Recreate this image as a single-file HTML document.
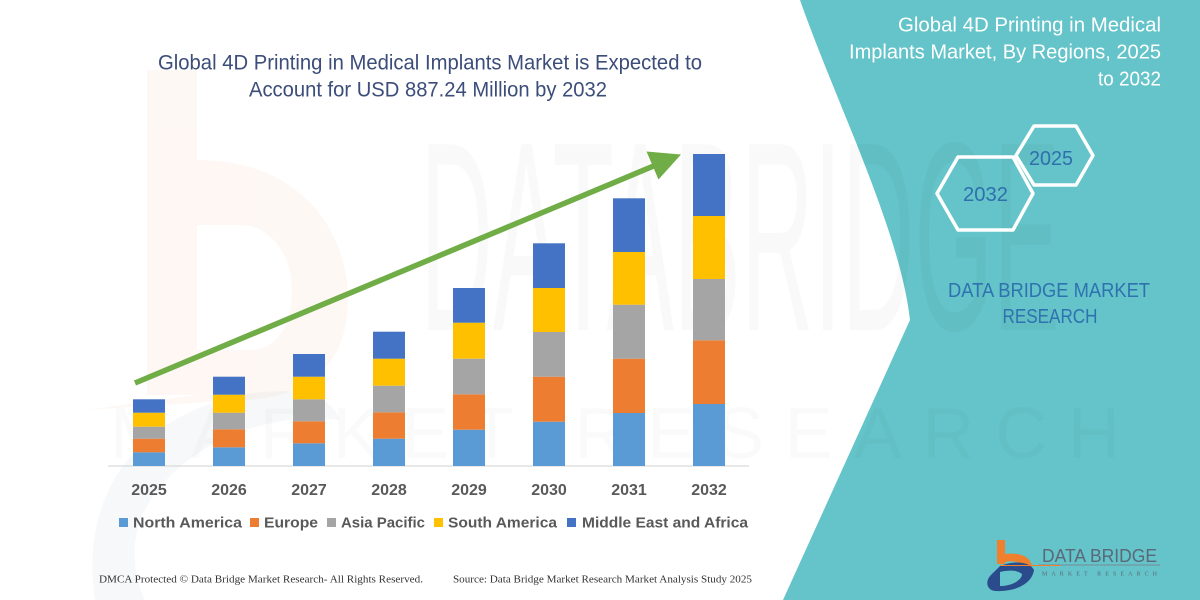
<!DOCTYPE html>
<html>
<head>
<meta charset="utf-8">
<style>
  html,body{margin:0;padding:0;background:#fff;}
  svg{display:block;}
</style>
</head>
<body>
<svg width="1200" height="600" viewBox="0 0 1200 600" xmlns="http://www.w3.org/2000/svg">
  <rect x="0" y="0" width="1200" height="600" fill="#ffffff"/>

  <!-- faint orange "b" watermark -->
  <g opacity="0.05" fill="#ED7D31">
    <rect x="147" y="70" width="50" height="325"/>
    <path fill-rule="evenodd" d="M197,160 C300,160 348,230 348,300 C348,370 300,400 240,400 L85,410 L197,395 Z M197,225 L197,350 L250,350 C280,350 292,320 292,290 C292,255 270,225 240,225 Z"/>
  </g>
  <!-- faint blue swoosh watermark -->
  <g opacity="0.05" fill="#4A6FA5">
    <path d="M95,600 C80,500 130,420 240,395 C300,385 330,395 340,420 C260,410 170,450 140,520 C130,550 135,580 145,600 Z"/>
  </g>

  <!-- teal panel -->
  <path d="M800,0 C835,100 900,230 910,320 L783,600 L1200,600 L1200,0 Z" fill="#64C4C9"/>

  <!-- faint big watermark letters -->
  <text x="420" y="330" font-family="Liberation Sans, sans-serif" font-size="270" fill="#000" opacity="0.018" textLength="640" lengthAdjust="spacingAndGlyphs">DATABRIDGE</text>
  <text x="110" y="458" font-family="Liberation Sans, sans-serif" font-size="72" fill="#000" opacity="0.015" textLength="1010" lengthAdjust="spacing">MARKET RESEARCH</text>

  <!-- Title -->
  <g font-family="Liberation Sans, sans-serif" font-size="21" fill="#3c4d7a" text-anchor="middle">
    <text x="430" y="69.5" textLength="544" lengthAdjust="spacingAndGlyphs">Global 4D Printing in Medical Implants Market is Expected to</text>
    <text x="428" y="96.5" textLength="358" lengthAdjust="spacingAndGlyphs">Account for USD 887.24 Million by 2032</text>
  </g>

  <!-- axis line -->
  <line x1="108" y1="466" x2="749" y2="466" stroke="#d9d9d9" stroke-width="1.2"/>

  <!-- bars -->
  <g>
    <!-- 2025 -->
    <rect x="133" y="452.3" width="32" height="13.7" fill="#5B9BD5"/>
    <rect x="133" y="438.7" width="32" height="13.6" fill="#ED7D31"/>
    <rect x="133" y="426.7" width="32" height="12" fill="#A5A5A5"/>
    <rect x="133" y="412.7" width="32" height="14" fill="#FFC000"/>
    <rect x="133" y="399.3" width="32" height="13.4" fill="#4472C4"/>
    <!-- 2026 -->
    <rect x="213" y="447.3" width="32" height="18.7" fill="#5B9BD5"/>
    <rect x="213" y="429.3" width="32" height="18" fill="#ED7D31"/>
    <rect x="213" y="412.7" width="32" height="16.6" fill="#A5A5A5"/>
    <rect x="213" y="394.7" width="32" height="18" fill="#FFC000"/>
    <rect x="213" y="376.7" width="32" height="18" fill="#4472C4"/>
    <!-- 2027 -->
    <rect x="293" y="443.3" width="32" height="22.7" fill="#5B9BD5"/>
    <rect x="293" y="421.3" width="32" height="22" fill="#ED7D31"/>
    <rect x="293" y="399.3" width="32" height="22" fill="#A5A5A5"/>
    <rect x="293" y="376.7" width="32" height="22.6" fill="#FFC000"/>
    <rect x="293" y="354" width="32" height="22.7" fill="#4472C4"/>
    <!-- 2028 -->
    <rect x="373" y="438.7" width="32" height="27.3" fill="#5B9BD5"/>
    <rect x="373" y="412.3" width="32" height="26.4" fill="#ED7D31"/>
    <rect x="373" y="385.7" width="32" height="26.6" fill="#A5A5A5"/>
    <rect x="373" y="358.7" width="32" height="27" fill="#FFC000"/>
    <rect x="373" y="331.7" width="32" height="27" fill="#4472C4"/>
    <!-- 2029 -->
    <rect x="453" y="429.7" width="32" height="36.3" fill="#5B9BD5"/>
    <rect x="453" y="394.3" width="32" height="35.4" fill="#ED7D31"/>
    <rect x="453" y="358.7" width="32" height="35.6" fill="#A5A5A5"/>
    <rect x="453" y="322.7" width="32" height="36" fill="#FFC000"/>
    <rect x="453" y="288" width="32" height="34.7" fill="#4472C4"/>
    <!-- 2030 -->
    <rect x="533" y="421.7" width="32" height="44.3" fill="#5B9BD5"/>
    <rect x="533" y="376.7" width="32" height="45" fill="#ED7D31"/>
    <rect x="533" y="332" width="32" height="44.7" fill="#A5A5A5"/>
    <rect x="533" y="288" width="32" height="44" fill="#FFC000"/>
    <rect x="533" y="243.3" width="32" height="44.7" fill="#4472C4"/>
    <!-- 2031 -->
    <rect x="613" y="413" width="32" height="53" fill="#5B9BD5"/>
    <rect x="613" y="358.7" width="32" height="54.3" fill="#ED7D31"/>
    <rect x="613" y="304.7" width="32" height="54" fill="#A5A5A5"/>
    <rect x="613" y="252" width="32" height="52.7" fill="#FFC000"/>
    <rect x="613" y="198.3" width="32" height="53.7" fill="#4472C4"/>
    <!-- 2032 -->
    <rect x="693" y="404" width="32" height="62" fill="#5B9BD5"/>
    <rect x="693" y="340.3" width="32" height="63.7" fill="#ED7D31"/>
    <rect x="693" y="279" width="32" height="61.3" fill="#A5A5A5"/>
    <rect x="693" y="216" width="32" height="63" fill="#FFC000"/>
    <rect x="693" y="154" width="32" height="62" fill="#4472C4"/>
  </g>

  <!-- green arrow -->
  <line x1="135" y1="383" x2="656" y2="165" stroke="#70AD47" stroke-width="5.5"/>
  <polygon points="681,154.5 658.5,179.5 646.5,151.5" fill="#70AD47"/>

  <!-- year labels -->
  <g font-family="Liberation Sans, sans-serif" font-size="16" font-weight="bold" fill="#595959" text-anchor="middle">
    <text x="149" y="495">2025</text>
    <text x="229" y="495">2026</text>
    <text x="309" y="495">2027</text>
    <text x="389" y="495">2028</text>
    <text x="469" y="495">2029</text>
    <text x="549" y="495">2030</text>
    <text x="629" y="495">2031</text>
    <text x="709" y="495">2032</text>
  </g>

  <!-- legend -->
  <g>
    <rect x="119" y="518" width="9" height="9" fill="#5B9BD5"/>
    <rect x="250" y="518" width="9" height="9" fill="#ED7D31"/>
    <rect x="327" y="518" width="9" height="9" fill="#A5A5A5"/>
    <rect x="434" y="518" width="9" height="9" fill="#FFC000"/>
    <rect x="567" y="518" width="9" height="9" fill="#4472C4"/>
  </g>
  <g font-family="Liberation Sans, sans-serif" font-size="15" font-weight="bold" fill="#595959">
    <text x="133" y="527.5" textLength="109" lengthAdjust="spacingAndGlyphs">North America</text>
    <text x="264" y="527.5" textLength="54" lengthAdjust="spacingAndGlyphs">Europe</text>
    <text x="341" y="527.5" textLength="84" lengthAdjust="spacingAndGlyphs">Asia Pacific</text>
    <text x="448" y="527.5" textLength="109" lengthAdjust="spacingAndGlyphs">South America</text>
    <text x="582" y="527.5" textLength="166" lengthAdjust="spacingAndGlyphs">Middle East and Africa</text>
  </g>

  <!-- footer -->
  <g font-family="Liberation Serif, serif" font-size="11" fill="#333">
    <text x="99" y="582.5" textLength="324" lengthAdjust="spacingAndGlyphs">DMCA Protected © Data Bridge Market Research-  All Rights Reserved.</text>
    <text x="453" y="582.5" textLength="299" lengthAdjust="spacingAndGlyphs">Source: Data Bridge Market Research  Market Analysis Study 2025</text>
  </g>

  <!-- right panel title -->
  <g font-family="Liberation Sans, sans-serif" font-size="20" fill="#ffffff" text-anchor="end">
    <text x="1161" y="31.5" textLength="263" lengthAdjust="spacingAndGlyphs">Global 4D Printing in Medical</text>
    <text x="1161" y="58.5" textLength="312" lengthAdjust="spacingAndGlyphs">Implants Market, By Regions, 2025</text>
    <text x="1161" y="85.5" textLength="63" lengthAdjust="spacingAndGlyphs">to 2032</text>
  </g>

  <!-- hexagons -->
  <g fill="none" stroke="#ffffff" stroke-width="3.5" stroke-linejoin="round">
    <polygon points="1016,155.5 1034,126 1076,126 1093,155.5 1076,185 1034,185"/>
    <polygon points="937,193.5 958,157 1013,157 1033,193.5 1013,230 958,230"/>
  </g>
  <g font-family="Liberation Sans, sans-serif" font-size="20" fill="#2f6fae" text-anchor="middle">
    <text x="1051" y="165" textLength="44" lengthAdjust="spacingAndGlyphs">2025</text>
    <text x="985.5" y="201" textLength="45" lengthAdjust="spacingAndGlyphs">2032</text>
  </g>

  <!-- DBMR text -->
  <g font-family="Liberation Sans, sans-serif" font-size="20" fill="#2f72b0" text-anchor="middle">
    <text x="1049" y="297" textLength="202" lengthAdjust="spacingAndGlyphs">DATA BRIDGE MARKET</text>
    <text x="1050" y="323" textLength="95" lengthAdjust="spacingAndGlyphs">RESEARCH</text>
  </g>

  <!-- logo -->
  <g>
    <rect x="997" y="540" width="8" height="24" fill="#F07F2E"/>
    <path d="M1005,554 C1022,552 1033,558 1032,570 L1024,570 C1024,563 1016,560 1005,562 Z" fill="#F07F2E"/>
    <path d="M1000,566 C1015,560 1030,562 1034,570 C1032,584 1015,592 995,591 C987,590 985,582 990,576 C994,572 998,568 1000,566 Z M1000,572 L1000,586 C1012,586 1022,580 1022,574 C1018,570 1008,570 1000,572 Z" fill="#2A4C8C" fill-rule="evenodd"/>
    <text x="1042" y="562" font-family="Liberation Sans, sans-serif" font-size="18" fill="#5b6878" textLength="115" lengthAdjust="spacingAndGlyphs">DATA BRIDGE</text>
    <line x1="1038" y1="565" x2="1160" y2="565" stroke="#7a8a98" stroke-width="1"/>
    <line x1="1000" y1="565.5" x2="1060" y2="565.5" stroke="#F07F2E" stroke-width="1"/>
    <text x="1042" y="575.5" font-family="Liberation Serif, serif" font-size="6" fill="#5b6878" textLength="115" lengthAdjust="spacing">MARKET   RESEARCH</text>
  </g>
</svg>
</body>
</html>
